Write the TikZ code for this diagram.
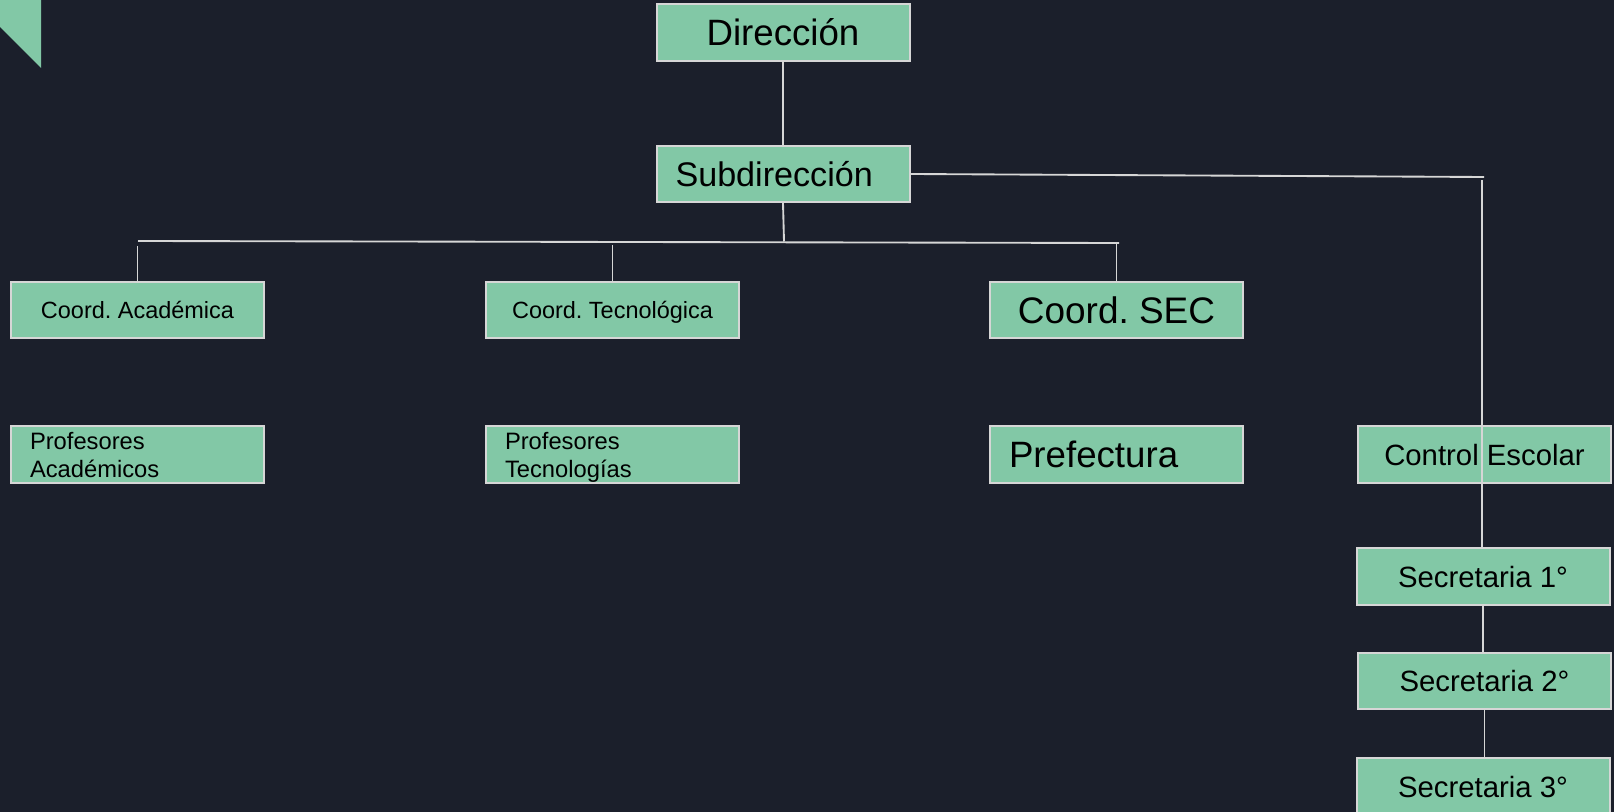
\documentclass[tikz,border=0pt]{standalone}
\usepackage{fontspec}
\setmainfont{Liberation Sans}
\frenchspacing
\definecolor{bg}{HTML}{1B1F2B}
\definecolor{boxgreen}{HTML}{82C8A6}
\definecolor{edge}{HTML}{D6D6D6}
\begin{document}
\begin{tikzpicture}[x=0.75pt,y=-0.75pt,
  boxbase/.style={draw=edge, line width=1.5pt, fill=boxgreen, inner sep=0pt,
    minimum width=189.75pt, minimum height=42.3pt, text=black},
  orgbox/.style={boxbase, text depth=0pt},
  leftbox/.style={orgbox, align=left, text width=161.25pt},
  multibox/.style={boxbase, align=left, text width=161.25pt, text height=13pt, text depth=21pt},
  link/.style={draw=edge, line width=1.4pt}]
\fill[bg] (0,0) rectangle (1614,812);
\useasboundingbox (0,0) rectangle (1614,812);
\fill[boxgreen] (0,0) -- (41,0) -- (41,68) -- (0,27) -- cycle;

\node[orgbox, text height=19.8pt, font=\fontsize{27.5pt}{33pt}\selectfont] (dir) at (783,32.5) {Dirección};
\node[leftbox, text height=18.4pt, font=\fontsize{25.6pt}{31pt}\selectfont] (sub) at (783,174) {Subdirección};
\node[orgbox, text height=12.7pt, font=\fontsize{17.6pt}{21pt}\selectfont] (ca) at (137.5,310) {Coord. Académica};
\node[orgbox, text height=12.7pt, font=\fontsize{17.6pt}{21pt}\selectfont] (ct) at (612.5,310) {Coord. Tecnológica};
\node[orgbox, text height=19.9pt, font=\fontsize{27.7pt}{33pt}\selectfont] (cs) at (1116.5,310) {Coord. SEC};
\node[multibox, font=\fontsize{17.8pt}{21pt}\selectfont] (pa) at (137.5,454.5) {Profesores\\Académicos};
\node[multibox, font=\fontsize{17.8pt}{21pt}\selectfont] (pt) at (612.5,454.5) {Profesores\\Tecnologías};
\node[leftbox, text height=19.8pt, font=\fontsize{27.5pt}{33pt}\selectfont] (pf) at (1116.5,454.5) {Prefectura};
\node[orgbox, text height=15.8pt, font=\fontsize{22pt}{26pt}\selectfont] (ce) at (1484.5,454.5) {Control Escolar};
\node[orgbox, text height=15.8pt, font=\fontsize{22pt}{26pt}\selectfont] (s1) at (1483,576.5) {Secretaria 1°};
\node[orgbox, text height=15.8pt, font=\fontsize{22pt}{26pt}\selectfont] (s2) at (1484.5,681) {Secretaria 2°};
\node[orgbox, text height=15.8pt, font=\fontsize{22pt}{26pt}\selectfont] (s3) at (1483,786.5) {Secretaria 3°};

\coordinate (j0) at (784,241.5);
\coordinate (hl) at (138,241);
\coordinate (hr) at (1119,243);
\coordinate (va) at (137.5,246);
\coordinate (vt) at (612.5,245);
\coordinate (vs) at (1116.5,243.5);
\coordinate (rt) at (1484,177);
\coordinate (rv) at (1482,180);

\draw[link] (dir.south) -- (sub.north);
\draw[link] (sub.south) -- (j0);
\draw[link] (hl) -- (hr);
\draw[link] (va) -- (ca.north);
\draw[link] (vt) -- (ct.north);
\draw[link] (vs) -- (cs.north);
\draw[link] (sub.east) -- (rt);
\draw[link] (rv) -- (rv |- s1.north);
\draw[link] (s1.south) -- (s1.south |- s2.north);
\draw[link] (s2.south) -- (s2.south |- s3.north);
\end{tikzpicture}
\end{document}
